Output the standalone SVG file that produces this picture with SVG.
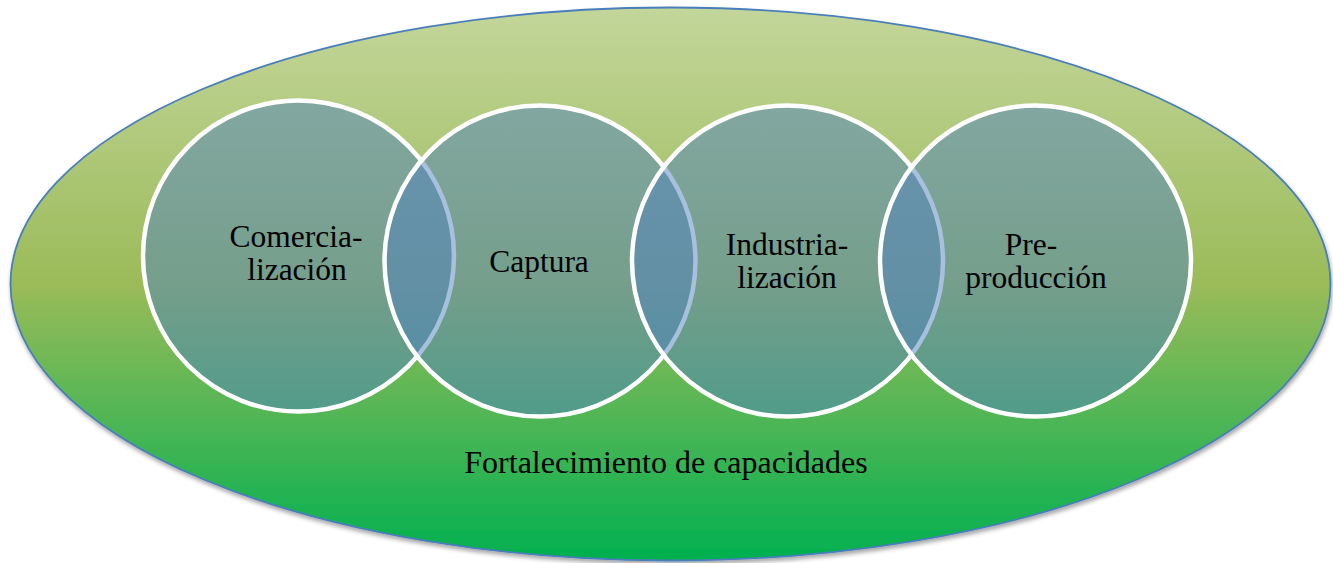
<svg xmlns="http://www.w3.org/2000/svg" width="1333" height="563" viewBox="0 0 1333 563">
  <defs>
    <linearGradient id="bg" x1="0" y1="0" x2="0" y2="1">
      <stop offset="0" stop-color="#c3d69b"/>
      <stop offset="0.5" stop-color="#9bbb59"/>
      <stop offset="1" stop-color="#00b050"/>
    </linearGradient>
    <filter id="sh" x="-5%" y="-5%" width="110%" height="115%">
      <feDropShadow dx="1" dy="3" stdDeviation="2" flood-color="#000" flood-opacity="0.35"/>
    </filter>
  </defs>
  <style>
    .c { fill: #4f81bd; fill-opacity: 0.5; stroke: #ffffff; stroke-width: 4.5; }
    .t { font-family: "Liberation Serif", "DejaVu Serif", serif; font-size: 31.5px; fill: #000; text-anchor: middle; }
    .b { font-size: 32px; }
  </style>
  <rect width="1333" height="563" fill="#ffffff"/>
  <g id="outer">
    <ellipse cx="670.5" cy="284" rx="660" ry="276.5" fill="url(#bg)" stroke="#4a7ebb" stroke-width="1.8" filter="url(#sh)"/>
    <text class="t b" x="666" y="473">Fortalecimiento de capacidades</text>
  </g>
  <g id="comercializacion">
    <circle class="c" cx="298.5" cy="256" r="155.5"/>
    <text class="t" x="296" y="247">Comercia-</text>
    <text class="t" x="297" y="280">lización</text>
  </g>
  <g id="captura">
    <circle class="c" cx="540" cy="261" r="155.5"/>
    <text class="t" x="539" y="272">Captura</text>
  </g>
  <g id="industrializacion">
    <circle class="c" cx="787.5" cy="261" r="155.5"/>
    <text class="t" x="787" y="255">Industria-</text>
    <text class="t" x="787" y="288">lización</text>
  </g>
  <g id="preproduccion">
    <circle class="c" cx="1035.5" cy="261" r="155.5"/>
    <text class="t" x="1031" y="255">Pre-</text>
    <text class="t" x="1036" y="288">producción</text>
  </g>
  <g id="connectors"/>
</svg>
